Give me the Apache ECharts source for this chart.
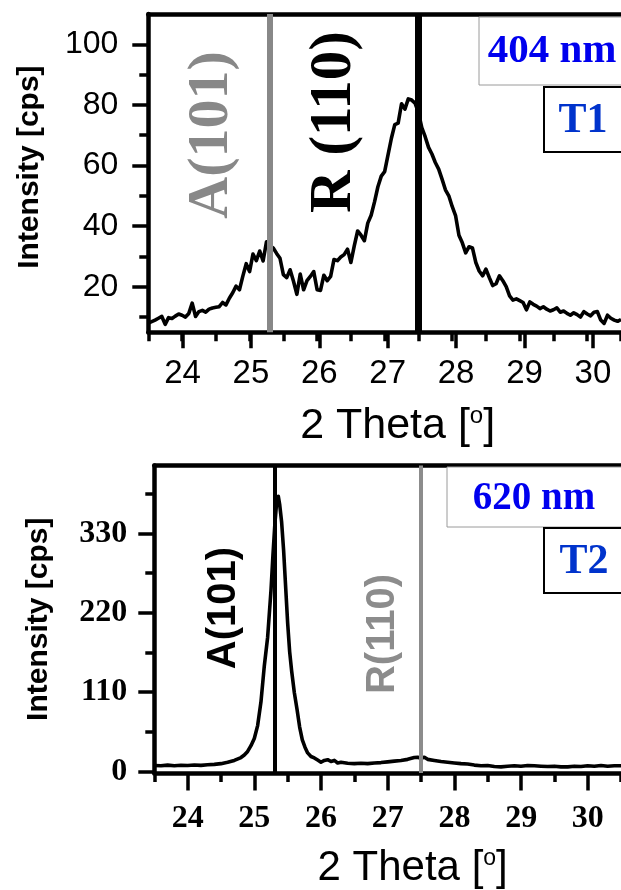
<!DOCTYPE html>
<html>
<head>
<meta charset="utf-8">
<title>XRD patterns T1 / T2</title>
<script src="https://cdn.jsdelivr.net/npm/echarts@6/dist/echarts.min.js"></script>
<style>
  html, body { margin: 0; padding: 0; background: #fff; }
  #chart { width: 621px; height: 890px; }
</style>
</head>
<body>
<div id="chart"></div>
<script>
// ---- Sample T1 (404 nm): scan 2θ / intensity ----
const t1Theta = [
  23.50, 23.55, 23.60, 23.65, 23.70, 23.75, 23.80, 23.85, 23.90, 23.95,
  24.00, 24.05, 24.10, 24.15, 24.20, 24.25, 24.30, 24.35, 24.40, 24.45,
  24.50, 24.55, 24.60, 24.65, 24.70, 24.75, 24.80, 24.85, 24.90, 24.95,
  25.00, 25.05, 25.10, 25.15, 25.20, 25.25, 25.30, 25.35, 25.40, 25.45,
  25.50, 25.55, 25.60, 25.65, 25.70, 25.75, 25.80, 25.85, 25.90, 25.95,
  26.00, 26.05, 26.10, 26.15, 26.20, 26.25, 26.30, 26.35, 26.40, 26.45,
  26.50, 26.55, 26.60, 26.65, 26.70, 26.75, 26.80, 26.85, 26.90, 26.95,
  27.00, 27.05, 27.10, 27.15, 27.20, 27.25, 27.30, 27.35, 27.40, 27.45,
  27.50, 27.55, 27.60, 27.65, 27.70, 27.75, 27.80, 27.85, 27.90, 27.95,
  28.00, 28.05, 28.10, 28.15, 28.20, 28.25, 28.30, 28.35, 28.40, 28.45,
  28.50, 28.55, 28.60, 28.65, 28.70, 28.75, 28.80, 28.85, 28.90, 28.95,
  29.00, 29.05, 29.10, 29.15, 29.20, 29.25, 29.30, 29.35, 29.40, 29.45,
  29.50, 29.55, 29.60, 29.65, 29.70, 29.75, 29.80, 29.85, 29.90, 29.95,
  30.00, 30.05, 30.10, 30.15, 30.20, 30.25, 30.30, 30.35, 30.40, 30.45,
  30.50
];
const t1Intensity = [
  8.0, 8.5, 9.0, 9.6, 10.2, 7.6, 9.8, 9.5, 10.3, 11.0,
  10.6, 10.0, 11.2, 14.6, 10.2, 11.8, 12.2, 11.6, 12.6, 13.0,
  13.2, 13.4, 14.8, 14.0, 16.2, 18.0, 20.2, 19.0, 23.5, 27.6,
  25.0, 30.8, 28.6, 31.8, 28.5, 34.8, 33.5, 32.8, 31.0, 29.4,
  24.0, 23.0, 25.6, 21.8, 17.5, 24.2, 19.0, 22.0, 23.4, 25.0,
  19.0, 18.8, 23.8, 22.0, 23.4, 29.0, 28.6, 29.8, 30.6, 32.4,
  28.0, 33.5, 38.4, 37.0, 35.2, 41.0, 43.6, 48.0, 53.0, 56.5,
  58.0, 63.5, 69.0, 73.5, 74.0, 80.4, 78.6, 82.0, 81.6, 80.6,
  77.5, 72.5, 69.5, 66.0, 63.8, 61.0, 58.8, 55.5, 52.0, 50.0,
  46.5, 43.5, 37.0, 34.5, 31.2, 33.2, 32.8, 28.0, 25.2, 23.6,
  25.8, 23.0, 20.4, 21.0, 23.6, 22.0, 20.0, 17.0, 15.6, 16.0,
  15.4, 14.8, 12.4, 15.0, 14.2, 13.6, 12.8, 13.4, 12.6, 12.0,
  12.4, 13.0, 11.6, 12.0, 11.2, 10.6, 11.4, 10.8, 10.0, 11.8,
  11.0, 10.4, 11.6, 11.8, 9.0, 7.9, 10.6, 9.6, 9.0, 8.6,
  9.2
];

// ---- Sample T2 (620 nm): scan 2θ / intensity ----
const t2Theta = [
  23.50, 23.60, 23.70, 23.80, 23.90, 24.00, 24.10, 24.20, 24.30, 24.40,
  24.50, 24.60, 24.70, 24.80, 24.85, 24.90, 24.95, 25.00, 25.05, 25.10,
  25.15, 25.20, 25.25, 25.28, 25.31, 25.34, 25.36, 25.38, 25.41, 25.44,
  25.47, 25.50, 25.53, 25.56, 25.60, 25.64, 25.68, 25.72, 25.76, 25.80,
  25.85, 25.90, 25.95, 26.00, 26.05, 26.10, 26.15, 26.20, 26.25, 26.30,
  26.40, 26.50, 26.60, 26.70, 26.80, 26.90, 27.00, 27.10, 27.20, 27.30,
  27.40, 27.45, 27.50, 27.55, 27.60, 27.70, 27.80, 27.90, 28.00, 28.10,
  28.20, 28.30, 28.40, 28.50, 28.60, 28.70, 28.80, 28.90, 29.00, 29.10,
  29.20, 29.30, 29.40, 29.50, 29.60, 29.70, 29.80, 29.90, 30.00, 30.10,
  30.20, 30.30, 30.40, 30.50
];
const t2Intensity = [
  6.5, 6.0, 7.0, 6.2, 6.8, 6.4, 7.2, 6.6, 7.4, 8.0,
  9.0, 11.0, 13.5, 17.5, 21.0, 26.0, 34.0, 44.0, 62.0, 95.0,
  145.0, 185.0, 250.0, 300.0, 345.0, 378.0, 381.0, 370.0, 345.0, 305.0,
  255.0, 205.0, 165.0, 138.0, 108.0, 85.0, 60.0, 42.0, 32.0, 24.0,
  19.0, 17.0, 14.0, 11.0, 13.5, 14.5, 12.0, 13.5, 10.0, 11.0,
  9.5, 9.0, 9.5, 9.0, 10.0, 10.5, 11.5, 12.5, 13.5, 15.0,
  17.5, 18.0, 16.5, 18.0, 15.0, 13.5, 12.0, 11.0, 10.0, 9.0,
  8.5, 7.0, 6.0, 6.5, 5.0, 4.5, 5.5, 6.0, 5.5, 6.5,
  6.0, 5.5, 5.0, 5.5, 4.5, 4.5, 5.5, 5.0, 6.0, 5.5,
  6.5, 5.5, 6.0, 6.0
];

// Reflection positions (2θ) marked by vertical lines
const anataseA101 = 25.3;
const rutileR110 = 27.5;

// Axis ranges and tick steps
const thetaRange = [23.5, 30.5];
const thetaMajor = [24, 30];
const t1Range = [5, 110];
const t1Major = [20, 100];   // step 20
const t1Minor = [10, 90];    // step 20
const t2Range = [-4, 424];
const t2Major = [0, 330];    // step 110
const t2Minor = [55, 385];   // step 110

// ---- layout of the two panels (pixels) ----
const panel1 = { left: 148.3, top: 14, right: 627.1, bottom: 332.2, x: thetaRange, y: t1Range };
const panel2 = { left: 154.3, top: 465.5, right: 621.2, bottom: 774.4, x: thetaRange, y: t2Range };

function xPix(p, v) { return p.left + (v - p.x[0]) / (p.x[1] - p.x[0]) * (p.right - p.left); }
function yPix(p, v) { return p.bottom - (v - p.y[0]) / (p.y[1] - p.y[0]) * (p.bottom - p.top); }
function rectGrid(l, t, r, b) { return { left: l, top: t, width: r - l, height: b - t, containLabel: false, show: false }; }

const SANS = '"Liberation Sans", Arial, sans-serif';
const SERIF = '"Liberation Serif", "Times New Roman", serif';
const AX = 4.5;     // axis line width
const TK = 3.5;     // tick width
const LONG = 16, SHORT = 9;

function pairs(xs, ys) { return xs.map((x, i) => [x, ys[i]]); }

function panelParts(p, gi, cfg) {
  const grids = [
    rectGrid(p.left, p.top, p.right, p.bottom),                                   // data
    rectGrid(xPix(p, cfg.xMajor[0]), p.top, xPix(p, cfg.xMajor[1]), p.bottom),   // x major ticks
    rectGrid(p.left, yPix(p, cfg.yMinor[1]), p.right, yPix(p, cfg.yMinor[0])),    // y minor ticks
    rectGrid(p.left, yPix(p, cfg.yMajor[1]), p.right, yPix(p, cfg.yMajor[0]))     // y major ticks
  ];
  const hiddenX = (g) => ({ gridIndex: g, type: 'value', show: false, min: 0, max: 1 });
  const hiddenY = (g) => ({ gridIndex: g, type: 'value', show: false, min: 0, max: 1 });
  const xAxes = [
    { gridIndex: gi, type: 'value', position: 'bottom', min: p.x[0], max: p.x[1], interval: 0.5,
      axisLine: { show: true, onZero: false, lineStyle: { color: '#000', width: AX } },
      axisTick: { show: true, length: SHORT, lineStyle: { color: '#000', width: TK } },
      axisLabel: { show: false }, splitLine: { show: false },
      name: '2 Theta [{sup|o}]', nameLocation: 'middle', nameGap: cfg.xNameGap,
      nameTextStyle: { fontFamily: SANS, fontSize: cfg.xNameSize, color: '#000',
        padding: [0, 0, 0, cfg.xNameShift],
        rich: { sup: { fontFamily: SANS, fontSize: Math.round(cfg.xNameSize * 0.55), color: '#000', verticalAlign: 'top' } } } },
    { gridIndex: gi, type: 'value', position: 'top', min: p.x[0], max: p.x[1],
      axisLine: { show: true, onZero: false, lineStyle: { color: '#000', width: AX } },
      axisTick: { show: false }, axisLabel: { show: false }, splitLine: { show: false } },
    { gridIndex: gi + 1, type: 'value', position: 'bottom', min: cfg.xMajor[0], max: cfg.xMajor[1], interval: 1,
      axisLine: { show: false, onZero: false },
      axisTick: { show: true, length: LONG, lineStyle: { color: '#000', width: TK } },
      axisLabel: { show: true, margin: cfg.xLabelMargin, color: '#000', fontFamily: cfg.labelFont,
        fontSize: cfg.labelSize, fontWeight: cfg.labelWeight },
      splitLine: { show: false } },
    hiddenX(gi + 2),
    hiddenX(gi + 3)
  ];
  const yAxes = [
    { gridIndex: gi, type: 'value', position: 'left', min: p.y[0], max: p.y[1],
      axisLine: { show: true, onZero: false, lineStyle: { color: '#000', width: AX } },
      axisTick: { show: false }, axisLabel: { show: false }, splitLine: { show: false },
      name: 'Intensity [cps]', nameLocation: 'middle', nameRotate: 90, nameGap: cfg.yNameGap,
      nameTextStyle: { fontFamily: SANS, fontSize: 30, fontWeight: 'bold', color: '#000',
        padding: [0, 0, 0, cfg.yNameShift] } },
    hiddenY(gi + 1),
    { gridIndex: gi + 2, type: 'value', position: 'left', min: cfg.yMinor[0], max: cfg.yMinor[1], interval: cfg.yStep,
      axisLine: { show: false, onZero: false },
      axisTick: { show: true, length: SHORT, lineStyle: { color: '#000', width: TK } },
      axisLabel: { show: false }, splitLine: { show: false } },
    { gridIndex: gi + 3, type: 'value', position: 'left', min: cfg.yMajor[0], max: cfg.yMajor[1], interval: cfg.yStep,
      axisLine: { show: false, onZero: false },
      axisTick: { show: true, length: LONG, lineStyle: { color: '#000', width: TK } },
      axisLabel: { show: true, margin: cfg.yLabelMargin, color: '#000', fontFamily: cfg.labelFont,
        fontSize: cfg.yLabelSize, fontWeight: cfg.labelWeight },
      splitLine: { show: false } }
  ];
  return { grids, xAxes, yAxes };
}

const upperPanel = panelParts(panel1, 0, {
  xMajor: thetaMajor, yMajor: t1Major, yMinor: t1Minor, yStep: 20,
  labelFont: SANS, labelSize: 33, yLabelSize: 32, labelWeight: 'normal',
  xLabelMargin: 25, yLabelMargin: 30, xNameGap: 72, xNameSize: 43, xNameShift: 26,
  yNameGap: 104, yNameShift: 12
});
const lowerPanel = panelParts(panel2, 4, {
  xMajor: thetaMajor, yMajor: t2Major, yMinor: t2Minor, yStep: 110,
  labelFont: SERIF, labelSize: 32, yLabelSize: 32, labelWeight: 'bold',
  xLabelMargin: 28, yLabelMargin: 27, xNameGap: 74, xNameSize: 42, xNameShift: 50,
  yNameGap: 101, yNameShift: 0
});

function refLine(value, color, width) {
  return { xAxis: value, lineStyle: { color: color, width: width, type: 'solid' } };
}

const option = {
  animation: false,
  backgroundColor: '#fff',
  grid: upperPanel.grids.concat(lowerPanel.grids),
  xAxis: upperPanel.xAxes.concat(lowerPanel.xAxes),
  yAxis: upperPanel.yAxes.concat(lowerPanel.yAxes),
  series: [
    {
      name: 'T1', type: 'line', xAxisIndex: 0, yAxisIndex: 0,
      data: pairs(t1Theta, t1Intensity),
      showSymbol: false, symbol: 'none', clip: true, z: 3,
      lineStyle: { color: '#000', width: 3.6, join: 'round' },
      markLine: {
        silent: true, symbol: 'none', label: { show: false }, animation: false,
        data: [refLine(anataseA101, '#888888', 6), refLine(rutileR110, '#000000', 7)]
      }
    },
    {
      name: 'T2', type: 'line', xAxisIndex: 5, yAxisIndex: 4,
      data: pairs(t2Theta, t2Intensity),
      showSymbol: false, symbol: 'none', clip: true, z: 3,
      lineStyle: { color: '#000', width: 3.6, join: 'round' },
      markLine: {
        silent: true, symbol: 'none', label: { show: false }, animation: false,
        data: [refLine(anataseA101, '#000000', 4), refLine(rutileR110, '#8c8c8c', 4)]
      }
    }
  ],
  graphic: [
    // peak labels, panel T1
    { type: 'text', x: 212, y: 135, rotation: Math.PI / 2, z: 5,
      style: { text: 'A(101)', fontFamily: SERIF, fontSize: 58, fontWeight: 'bold', fill: '#888888',
        textAlign: 'center', textVerticalAlign: 'middle', align: 'center', verticalAlign: 'middle' } },
    { type: 'text', x: 335, y: 122, rotation: Math.PI / 2, z: 5,
      style: { text: 'R (110)', fontFamily: SERIF, fontSize: 59, fontWeight: 'bold', fill: '#000',
        textAlign: 'center', textVerticalAlign: 'middle', align: 'center', verticalAlign: 'middle' } },
    // peak labels, panel T2
    { type: 'text', x: 224, y: 608, rotation: Math.PI / 2, z: 5,
      style: { text: 'A(101)', fontFamily: SANS, fontSize: 40, fontWeight: 'bold', fill: '#000',
        textAlign: 'center', textVerticalAlign: 'middle', align: 'center', verticalAlign: 'middle' } },
    { type: 'text', x: 383, y: 634, rotation: Math.PI / 2, z: 5,
      style: { text: 'R(110)', fontFamily: SANS, fontSize: 40, fontWeight: 'bold', fill: '#8c8c8c',
        textAlign: 'center', textVerticalAlign: 'middle', align: 'center', verticalAlign: 'middle' } },
    // thickness / sample boxes, panel T1
    { type: 'rect', z: 6, shape: { x: 479, y: 17, width: 160, height: 68 },
      style: { fill: '#fff', stroke: '#9a9a9a', lineWidth: 1 } },
    { type: 'text', z: 7, x: 552, y: 51,
      style: { text: '404 nm', fontFamily: SERIF, fontSize: 41, fontWeight: 'bold', fill: '#0000ee',
        textAlign: 'center', textVerticalAlign: 'middle', align: 'center', verticalAlign: 'middle' } },
    { type: 'rect', z: 6, shape: { x: 544, y: 87, width: 100, height: 65 },
      style: { fill: '#fff', stroke: '#000', lineWidth: 2 } },
    { type: 'text', z: 7, x: 583, y: 121,
      style: { text: 'T1', fontFamily: SERIF, fontSize: 42, fontWeight: 'bold', fill: '#0033cc',
        textAlign: 'center', textVerticalAlign: 'middle', align: 'center', verticalAlign: 'middle' } },
    // thickness / sample boxes, panel T2
    { type: 'rect', z: 6, shape: { x: 447, y: 467, width: 190, height: 60 },
      style: { fill: '#fff', stroke: '#9a9a9a', lineWidth: 1 } },
    { type: 'text', z: 7, x: 534, y: 499,
      style: { text: '620 nm', fontFamily: SERIF, fontSize: 39, fontWeight: 'bold', fill: '#0000ee',
        textAlign: 'center', textVerticalAlign: 'middle', align: 'center', verticalAlign: 'middle' } },
    { type: 'rect', z: 6, shape: { x: 544, y: 528, width: 100, height: 65 },
      style: { fill: '#fff', stroke: '#000', lineWidth: 2 } },
    { type: 'text', z: 7, x: 584, y: 562,
      style: { text: 'T2', fontFamily: SERIF, fontSize: 42, fontWeight: 'bold', fill: '#0033cc',
        textAlign: 'center', textVerticalAlign: 'middle', align: 'center', verticalAlign: 'middle' } }
  ]
};

const chart = echarts.init(document.getElementById('chart'), null, { renderer: 'canvas' });
chart.setOption(option);
</script>
</body>
</html>
